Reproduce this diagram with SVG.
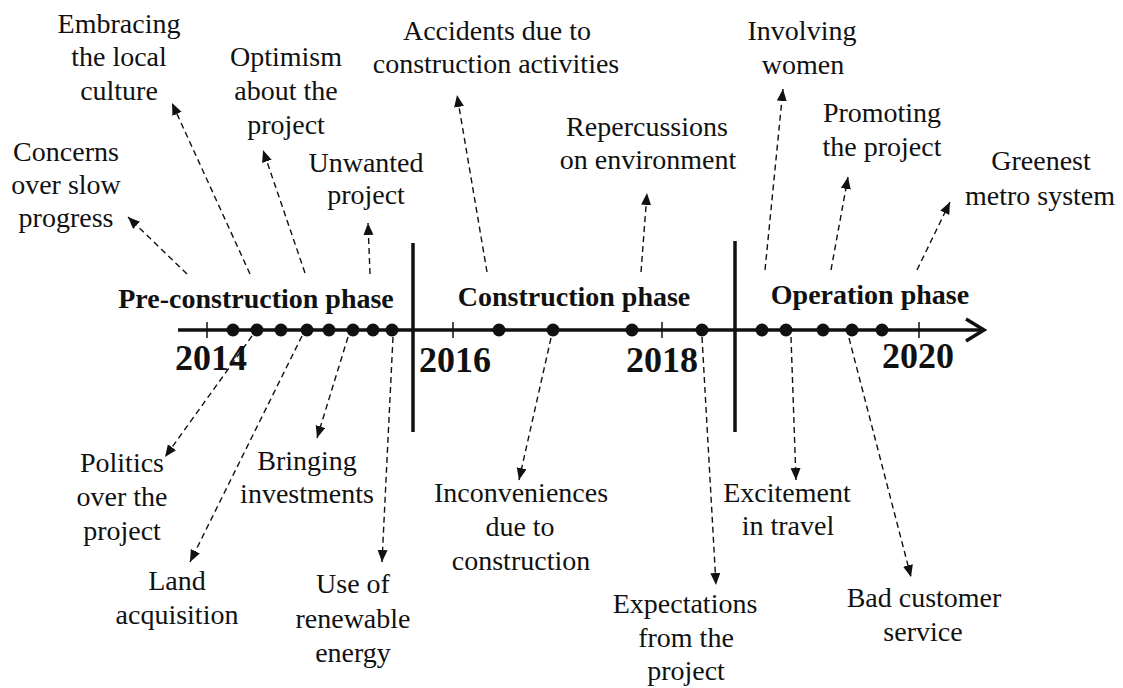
<svg xmlns="http://www.w3.org/2000/svg" width="1123" height="688" viewBox="0 0 1123 688">
<style>
.lbl{font-family:"Liberation Serif","DejaVu Serif",serif;font-size:28px;font-weight:normal;fill:#111;text-anchor:middle}
.phase{font-family:"Liberation Serif","DejaVu Serif",serif;font-size:28px;font-weight:bold;fill:#111;text-anchor:middle}
.year{font-family:"Liberation Serif","DejaVu Serif",serif;font-size:36px;font-weight:bold;fill:#111;text-anchor:middle}
.conn{stroke:#111;stroke-width:1.4;stroke-dasharray:6 4;fill:none;marker-end:url(#ah)}
.axis{stroke:#111;stroke-width:3.5;fill:none}
.tick{stroke:#111;stroke-width:1.5}
.dot{fill:#111}
</style>
<defs>
<marker id="ah" markerUnits="userSpaceOnUse" markerWidth="14" markerHeight="12" refX="12" refY="5" orient="auto">
<path d="M0,0 L12,5 L0,10 Z" fill="#111"/>
</marker>
</defs>
<rect width="1123" height="688" fill="#fff"/>
<g id="timeline">
<line class="axis" x1="178" y1="330" x2="983" y2="330"/>
<polyline class="axis" stroke-width="4" points="966,319 984,330 966,341"/>
<line class="axis" x1="413" y1="243" x2="413" y2="432"/>
<line class="axis" x1="735" y1="241" x2="735" y2="432"/>
<line class="tick" x1="207" y1="322" x2="207" y2="338"/>
<line class="tick" x1="453" y1="322" x2="453" y2="338"/>
<line class="tick" x1="662" y1="322" x2="662" y2="338"/>
<line class="tick" x1="919" y1="322" x2="919" y2="338"/>
<text class="phase" x="256" y="308">Pre-construction phase</text>
<text class="phase" x="574" y="306">Construction phase</text>
<text class="phase" x="870" y="304">Operation phase</text>
<text class="year" x="211" y="370">2014</text>
<text class="year" x="455" y="372">2016</text>
<text class="year" x="662" y="372">2018</text>
<text class="year" x="918" y="368">2020</text>
</g>
<g id="dots">
<circle class="dot" cx="233" cy="330" r="6.5"/>
<circle class="dot" cx="257" cy="330" r="6.5"/>
<circle class="dot" cx="281" cy="330" r="6.5"/>
<circle class="dot" cx="307" cy="330" r="6.5"/>
<circle class="dot" cx="329" cy="330" r="6.5"/>
<circle class="dot" cx="353" cy="330" r="6.5"/>
<circle class="dot" cx="373" cy="330" r="6.5"/>
<circle class="dot" cx="392" cy="330" r="6.5"/>
<circle class="dot" cx="499" cy="330" r="6.5"/>
<circle class="dot" cx="553" cy="330" r="6.5"/>
<circle class="dot" cx="632" cy="330" r="6.5"/>
<circle class="dot" cx="702" cy="330" r="6.5"/>
<circle class="dot" cx="762" cy="330" r="6.5"/>
<circle class="dot" cx="786" cy="330" r="6.5"/>
<circle class="dot" cx="823" cy="330" r="6.5"/>
<circle class="dot" cx="852" cy="330" r="6.5"/>
<circle class="dot" cx="882" cy="330" r="6.5"/>
</g>
<g id="connectors">
<line class="conn" x1="187" y1="274" x2="128" y2="217"/>
<line class="conn" x1="250" y1="274" x2="172" y2="103"/>
<line class="conn" x1="305" y1="273" x2="263" y2="150"/>
<line class="conn" x1="370" y1="274" x2="368" y2="223"/>
<line class="conn" x1="487" y1="272" x2="457" y2="95"/>
<line class="conn" x1="641" y1="272" x2="647" y2="193"/>
<line class="conn" x1="765" y1="270" x2="783" y2="89"/>
<line class="conn" x1="831" y1="270" x2="848" y2="177"/>
<line class="conn" x1="917" y1="270" x2="950" y2="202"/>
<line class="conn" x1="252" y1="336" x2="165" y2="457"/>
<line class="conn" x1="302" y1="336" x2="190" y2="562"/>
<line class="conn" x1="348" y1="337" x2="317" y2="438"/>
<line class="conn" x1="393" y1="337" x2="382" y2="562"/>
<line class="conn" x1="551" y1="338" x2="519" y2="480"/>
<line class="conn" x1="702" y1="337" x2="716" y2="585"/>
<line class="conn" x1="791" y1="337" x2="796" y2="480"/>
<line class="conn" x1="849" y1="338" x2="911" y2="577"/>
</g>
<g id="n-concerns"><text class="lbl"><tspan x="66" y="161">Concerns</tspan><tspan x="66" y="194">over slow</tspan><tspan x="66" y="227">progress</tspan></text></g>
<g id="n-embracing"><text class="lbl"><tspan x="119" y="33">Embracing</tspan><tspan x="119" y="66">the local</tspan><tspan x="119" y="100">culture</tspan></text></g>
<g id="n-optimism"><text class="lbl"><tspan x="286" y="66">Optimism</tspan><tspan x="286" y="100">about the</tspan><tspan x="286" y="134">project</tspan></text></g>
<g id="n-unwanted"><text class="lbl"><tspan x="366" y="172">Unwanted</tspan><tspan x="366" y="204">project</tspan></text></g>
<g id="n-accidents"><text class="lbl"><tspan x="497" y="40">Accidents due to</tspan><tspan x="496" y="73">construction activities</tspan></text></g>
<g id="n-repercussions"><text class="lbl"><tspan x="647" y="136">Repercussions</tspan><tspan x="648" y="169">on environment</tspan></text></g>
<g id="n-involving"><text class="lbl"><tspan x="802" y="40">Involving</tspan><tspan x="803" y="74">women</tspan></text></g>
<g id="n-promoting"><text class="lbl"><tspan x="882" y="122">Promoting</tspan><tspan x="882" y="156">the project</tspan></text></g>
<g id="n-greenest"><text class="lbl"><tspan x="1041" y="170">Greenest</tspan><tspan x="1040" y="205">metro system</tspan></text></g>
<g id="n-politics"><text class="lbl"><tspan x="122" y="472">Politics</tspan><tspan x="122" y="506">over the</tspan><tspan x="122" y="540">project</tspan></text></g>
<g id="n-land"><text class="lbl"><tspan x="177" y="590">Land</tspan><tspan x="177" y="624">acquisition</tspan></text></g>
<g id="n-bringing"><text class="lbl"><tspan x="307" y="470">Bringing</tspan><tspan x="307" y="503">investments</tspan></text></g>
<g id="n-use"><text class="lbl"><tspan x="353" y="593">Use of</tspan><tspan x="353" y="628">renewable</tspan><tspan x="353" y="662">energy</tspan></text></g>
<g id="n-inconveniences"><text class="lbl"><tspan x="521" y="502">Inconveniences</tspan><tspan x="520" y="536">due to</tspan><tspan x="521" y="570">construction</tspan></text></g>
<g id="n-expectations"><text class="lbl"><tspan x="685" y="613">Expectations</tspan><tspan x="686" y="647">from the</tspan><tspan x="686" y="680">project</tspan></text></g>
<g id="n-excitement"><text class="lbl"><tspan x="787" y="502">Excitement</tspan><tspan x="788" y="535">in travel</tspan></text></g>
<g id="n-bad"><text class="lbl"><tspan x="924" y="607">Bad customer</tspan><tspan x="923" y="641">service</tspan></text></g>
</svg>
